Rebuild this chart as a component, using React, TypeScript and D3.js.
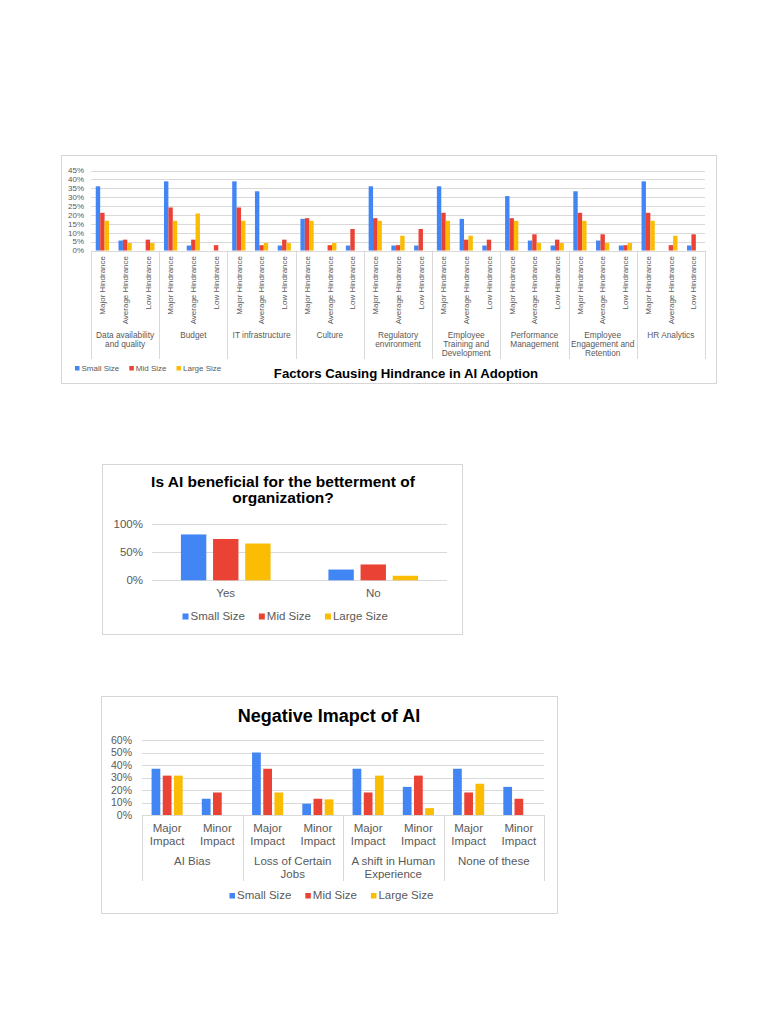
import { useEffect, useRef } from 'react'
import * as d3 from 'd3'

const font = '"Liberation Sans", Arial, sans-serif'
const labelColor = '#595959'
const gridColor = '#d9d9d9'

const seriesNames = ['Small Size', 'Mid Size', 'Large Size']
const seriesColors = ['#4285f4', '#ea4335', '#fbbc04']

// chart 1: factors causing hindrance
const hindranceFactors = [
  ['Data availability', 'and quality'],
  ['Budget'],
  ['IT infrastructure'],
  ['Culture'],
  ['Regulatory', 'environment'],
  ['Employee', 'Training and', 'Development'],
  ['Performance', 'Management'],
  ['Employee', 'Engagement and', 'Retention'],
  ['HR Analytics'],
]
const hindranceLevels = ['Major Hindrance', 'Average Hindrance', 'Low Hindrance']
const hindranceSmall = [36.1, 5.6, 0, 38.9, 2.8, 0, 38.9, 33.3, 2.8, 17.8, 0, 2.8, 36.1, 2.8, 2.8, 36.1, 17.8, 2.8, 30.6, 5.6, 2.8, 33.3, 5.6, 2.8, 38.9, 0, 2.8]
const hindranceMid = [21.2, 6.1, 6.1, 24.2, 6.1, 3.0, 24.2, 3.0, 6.1, 18.2, 3.0, 12.1, 18.2, 3.0, 12.1, 21.2, 6.1, 6.1, 18.2, 9.1, 6.1, 21.2, 9.1, 3.0, 21.2, 3.0, 9.1]
const hindranceLarge = [16.7, 4.2, 4.2, 16.7, 20.8, 0, 16.7, 4.2, 4.2, 16.7, 4.2, 0, 16.7, 8.3, 0, 16.7, 8.3, 0, 16.7, 4.2, 4.2, 16.7, 4.2, 4.2, 16.7, 8.3, 0]
const hindranceTicks = [0, 5, 10, 15, 20, 25, 30, 35, 40, 45]

// chart 2: is AI beneficial
const benefitAnswers = ['Yes', 'No']
const benefitSmall = [81, 19]
const benefitMid = [73, 28]
const benefitLarge = [65, 8]
const benefitTicks = [0, 50, 100]

// chart 3: negative impact
const impactTypes = [['AI Bias'], ['Loss of Certain', 'Jobs'], ['A shift in Human', 'Experience'], ['None of these']]
const impactLevels = [['Major', 'Impact'], ['Minor', 'Impact']]
const impactSmall = [37, 13, 50, 9, 37, 22.5, 37, 22.5]
const impactMid = [31.5, 18, 37, 13, 18, 31.5, 18, 13]
const impactLarge = [31.5, 0, 18, 12.5, 31.5, 5.5, 25, 0]
const impactTicks = [0, 10, 20, 30, 40, 50, 60]

type G = d3.Selection<SVGGElement, unknown, null, undefined>

function frame(g: G, x: number, y: number, w: number, h: number) {
  g.append('rect')
    .attr('x', x + 0.5)
    .attr('y', y + 0.5)
    .attr('width', w)
    .attr('height', h)
    .attr('fill', '#fff')
    .attr('stroke', '#d6d6d6')
}

function grid(g: G, y: d3.ScaleLinear<number, number>, ticks: number[], x0: number, x1: number, labelX: number, size: number) {
  ticks.forEach((t) => {
    g.append('line')
      .attr('x1', x0)
      .attr('x2', x1)
      .attr('y1', Math.round(y(t)) + 0.5)
      .attr('y2', Math.round(y(t)) + 0.5)
      .attr('stroke', gridColor)
    g.append('text')
      .attr('x', labelX)
      .attr('y', y(t))
      .attr('dy', '0.35em')
      .attr('text-anchor', 'end')
      .attr('font-size', size)
      .attr('fill', labelColor)
      .text(t + '%')
  })
}

function bars(g: G, x: d3.ScaleBand<string>, cats: string[], inner: d3.ScaleBand<string>, y: d3.ScaleLinear<number, number>, series: number[][]) {
  series.forEach((vals, s) => {
    g.append('g')
      .attr('fill', seriesColors[s])
      .selectAll('rect')
      .data(vals)
      .join('rect')
      .attr('x', (_, i) => x(cats[i])! + inner(seriesNames[s])!)
      .attr('y', (d) => y(d))
      .attr('width', inner.bandwidth())
      .attr('height', (d) => y(0) - y(d))
  })
}

function legend(g: G, x: number, y: number, size: number, sq: number, gap: number) {
  let cx = x
  seriesNames.forEach((name, i) => {
    g.append('rect')
      .attr('x', cx)
      .attr('y', y - sq - 0.5)
      .attr('width', sq)
      .attr('height', sq)
      .attr('fill', seriesColors[i])
    const t = g
      .append('text')
      .attr('x', cx + sq + 2)
      .attr('y', y)
      .attr('font-size', size)
      .attr('fill', labelColor)
      .text(name)
    cx = cx + sq + 2 + (t.node() as SVGTextElement).getComputedTextLength() + gap
  })
}

function multiline(g: G, lines: string[], x: number, y: number, step: number, size: number, color: string, weight = 'normal') {
  lines.forEach((l, k) => {
    g.append('text')
      .attr('x', x)
      .attr('y', y + k * step)
      .attr('text-anchor', 'middle')
      .attr('font-size', size)
      .attr('font-weight', weight)
      .attr('fill', color)
      .text(l)
  })
}

function drawHindrance(g: G) {
  frame(g, 61, 155, 655, 228)
  const x0 = 91
  const x1 = 705
  const y = d3.scaleLinear().domain([0, 45]).range([250.5, 170.5])
  grid(g, y, hindranceTicks, x0, x1, 84, 8)
  const cats = hindranceFactors.flatMap((_, i) => hindranceLevels.map((l) => i + '|' + l))
  const x = d3.scaleBand().domain(cats).range([x0, x1])
  const inner = d3.scaleBand().domain(seriesNames).range([0, x.bandwidth()]).paddingOuter(1.08)
  bars(g, x, cats, inner, y, [hindranceSmall, hindranceMid, hindranceLarge])
  cats.forEach((c) => {
    g.append('text')
      .attr('transform', `translate(${x(c)! + x.bandwidth() / 2},256) rotate(-90)`)
      .attr('dy', '0.35em')
      .attr('text-anchor', 'end')
      .attr('font-size', 8)
      .attr('fill', labelColor)
      .text(c.split('|')[1])
  })
  const gw = (x1 - x0) / hindranceFactors.length
  d3.range(hindranceFactors.length + 1).forEach((i) => {
    g.append('line')
      .attr('x1', Math.round(x0 + i * gw) + 0.5)
      .attr('x2', Math.round(x0 + i * gw) + 0.5)
      .attr('y1', 250.5)
      .attr('y2', 359)
      .attr('stroke', gridColor)
  })
  hindranceFactors.forEach((lines, i) => {
    multiline(g, lines, x0 + (i + 0.5) * gw, 338, 9, 8.3, labelColor)
  })
  legend(g, 75, 371, 8, 4.5, 10)
  g.append('text')
    .attr('x', 406)
    .attr('y', 378)
    .attr('text-anchor', 'middle')
    .attr('font-size', 13.2)
    .attr('font-weight', 'bold')
    .attr('fill', '#000')
    .text('Factors Causing Hindrance in AI Adoption')
}

function drawBenefit(g: G) {
  frame(g, 102, 464, 360, 170)
  multiline(g, ['Is AI beneficial for the betterment of', 'organization?'], 283, 487, 16, 15.5, '#000', 'bold')
  const x0 = 152
  const x1 = 447
  const y = d3.scaleLinear().domain([0, 100]).range([580.3, 523.7])
  grid(g, y, benefitTicks, x0, x1, 143, 11.5)
  const x = d3.scaleBand().domain(benefitAnswers).range([x0, x1])
  const inner = d3.scaleBand().domain(seriesNames).range([0, x.bandwidth()]).paddingInner(0.21).paddingOuter(0.9)
  bars(g, x, benefitAnswers, inner, y, [benefitSmall, benefitMid, benefitLarge])
  benefitAnswers.forEach((a) => {
    multiline(g, [a], x(a)! + x.bandwidth() / 2, 597, 0, 11.5, labelColor)
  })
  legend(g, 182.5, 620, 11.5, 6, 14)
}

function drawImpact(g: G) {
  frame(g, 101, 696, 456, 217)
  g.append('text')
    .attr('x', 329)
    .attr('y', 722)
    .attr('text-anchor', 'middle')
    .attr('font-size', 18)
    .attr('font-weight', 'bold')
    .attr('fill', '#000')
    .text('Negative Imapct of AI')
  const x0 = 142
  const x1 = 544
  const y = d3.scaleLinear().domain([0, 60]).range([815, 740])
  grid(g, y, impactTicks, x0, x1, 132, 10.5)
  const cats = impactTypes.flatMap((_, i) => impactLevels.map((l) => i + '|' + l.join(' ')))
  const x = d3.scaleBand().domain(cats).range([x0, x1])
  const inner = d3.scaleBand().domain(seriesNames).range([0, x.bandwidth()]).paddingInner(0.22).paddingOuter(0.855)
  bars(g, x, cats, inner, y, [impactSmall, impactMid, impactLarge])
  cats.forEach((c, i) => {
    multiline(g, impactLevels[i % 2], x(c)! + x.bandwidth() / 2, 832, 13, 11.5, labelColor)
  })
  const gw = (x1 - x0) / impactTypes.length
  d3.range(impactTypes.length + 1).forEach((i) => {
    g.append('line')
      .attr('x1', Math.round(x0 + i * gw) + 0.5)
      .attr('x2', Math.round(x0 + i * gw) + 0.5)
      .attr('y1', 815)
      .attr('y2', 881)
      .attr('stroke', gridColor)
  })
  impactTypes.forEach((lines, i) => {
    multiline(g, lines, x0 + (i + 0.5) * gw, 865, 12.5, 11.5, labelColor)
  })
  legend(g, 229.5, 899, 11.5, 5.5, 14)
}

export default function App() {
  const ref = useRef<SVGSVGElement | null>(null)
  useEffect(() => {
    if (!ref.current) return
    const svg = d3.select(ref.current)
    svg.selectAll('*').remove()
    svg.append('rect').attr('width', 768).attr('height', 1024).attr('fill', '#fff')
    drawHindrance(svg.append('g'))
    drawBenefit(svg.append('g'))
    drawImpact(svg.append('g'))
  }, [])
  return (
    <svg
      ref={ref}
      width={768}
      height={1024}
      style={{ position: 'absolute', left: 0, top: 0, fontFamily: font }}
    />
  )
}
